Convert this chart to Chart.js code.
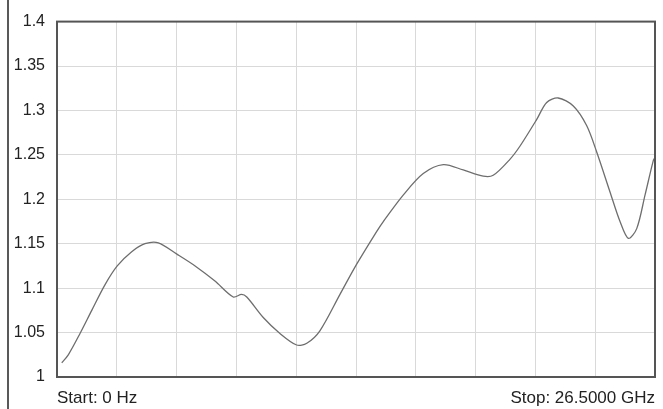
<!DOCTYPE html>
<html>
<head>
<meta charset="utf-8">
<script src="https://cdn.jsdelivr.net/npm/chart.js@4.4.1/dist/chart.umd.min.js"></script>
<style>
    html, body { margin: 0; padding: 0; background: #fff; }
    #wrap { position: relative; width: 663px; height: 409px; }
</style>
</head>
<body>
<div id="wrap"><canvas id="swrChart" width="663" height="409"></canvas></div>
<script>
// Frequency (GHz) and SWR
const freqGHz = [0.21, 0.50, 1.02, 1.54, 2.13, 2.67, 3.31, 3.90, 4.49, 5.33,
    6.12, 7.00, 7.81, 8.18, 8.41, 9.14, 9.88, 10.62, 11.07, 11.65,
    12.54, 13.28, 14.17, 14.46, 15.35, 16.23, 17.12, 18.00, 18.89, 19.33,
    20.07, 20.52, 21.26, 21.70, 22.21, 22.88, 23.47, 23.92, 24.51, 24.95,
    25.32, 25.69, 26.06, 26.43, 26.50];
const swr = [1.016, 1.025, 1.049, 1.075, 1.104, 1.125, 1.141, 1.150, 1.151, 1.138,
    1.125, 1.108, 1.090, 1.093, 1.090, 1.067, 1.049, 1.036, 1.038, 1.052,
    1.093, 1.127, 1.164, 1.175, 1.205, 1.229, 1.239, 1.233, 1.226, 1.227,
    1.245, 1.260, 1.290, 1.309, 1.314, 1.305, 1.283, 1.253, 1.208, 1.175,
    1.156, 1.167, 1.205, 1.244, 1.247];
const xGrid = [0, 2.65, 5.3, 7.95, 10.6, 13.25, 15.9, 18.55, 21.2, 23.85, 26.5];
const startLabel = 'Start: 0 Hz';
const stopLabel = 'Stop: 26.5000 GHz';

// Frame, outer edge line and start/stop text
const framePlugin = {
    id: 'frame',
    afterDraw(chart) {
        const { ctx, chartArea: a } = chart;
        ctx.save();
        ctx.strokeStyle = '#555';
        ctx.lineWidth = 2;
        ctx.strokeRect(a.left, a.top, a.right - a.left, a.bottom - a.top);
        ctx.strokeStyle = '#222';
        ctx.lineWidth = 1.5;
        ctx.beginPath();
        ctx.moveTo(8, 0);
        ctx.lineTo(8, chart.height);
        ctx.stroke();
        ctx.fillStyle = '#222';
        ctx.font = '17px "Liberation Sans", Arial, sans-serif';
        ctx.textBaseline = 'middle';
        ctx.textAlign = 'left';
        ctx.fillText(startLabel, a.left, 398);
        ctx.textAlign = 'right';
        ctx.fillText(stopLabel, a.right, 398);
        ctx.restore();
    }
};

new Chart(document.getElementById('swrChart').getContext('2d'), {
    type: 'line',
    data: {
        datasets: [{
            data: freqGHz.map((f, i) => ({ x: f, y: swr[i] })),
            borderColor: '#6e6e6e',
            borderWidth: 1.3,
            pointRadius: 0,
            tension: 0.3,
            fill: false
        }]
    },
    options: {
        responsive: false,
        animation: false,
        layout: { padding: { top: 18, right: 8, left: 0, bottom: 0 } },
        plugins: {
            legend: { display: false },
            tooltip: { enabled: false }
        },
        scales: {
            x: {
                type: 'linear',
                min: 0,
                max: 26.5,
                afterBuildTicks(scale) {
                    scale.ticks = xGrid.map(v => ({ value: v }));
                },
                afterFit(scale) { scale.height = 32; },
                ticks: { display: false },
                grid: { color: '#d9d9d9', drawTicks: false },
                border: { display: false }
            },
            y: {
                min: 1,
                max: 1.4,
                afterFit(scale) { scale.width = 57; },
                ticks: {
                    stepSize: 0.05,
                    padding: 12,
                    color: '#222',
                    font: { family: '"Liberation Sans", Arial, sans-serif', size: 16 },
                    callback: v => String(Math.round(v * 100) / 100)
                },
                grid: { color: '#d9d9d9', drawTicks: false },
                border: { display: false }
            }
        }
    },
    plugins: [framePlugin]
});
</script>
</body>
</html>
